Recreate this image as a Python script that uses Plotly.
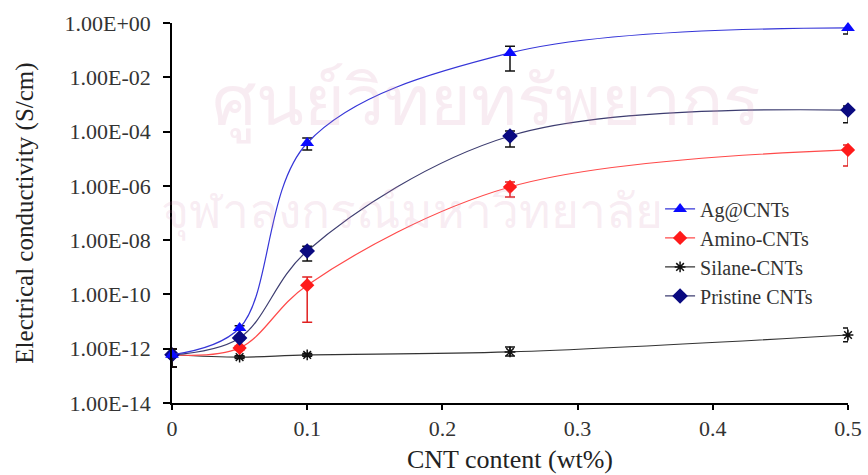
import plotly.graph_objects as go

# ---- data ----
cnt_content = [0, 0.05, 0.1, 0.25, 0.5]

ag_cnts = [6.0e-13, 5.8e-12, 3.8e-5, 7.9e-2, 0.66]
ag_hi = [9.8e-13, 7.0e-12, 5.8e-5, 0.14, 1.17]
ag_lo = [2.1e-13, 4.8e-12, 2.1e-5, 1.7e-2, 0.39]

amino_cnts = [6.0e-13, 1.07e-12, 2.2e-10, 9.1e-7, 2.1e-5]
amino_hi = [9.8e-13, 1.25e-12, 4.4e-10, 1.38e-6, 3.2e-5]
amino_lo = [2.1e-13, 0.9e-12, 9.5e-12, 3.9e-7, 5.4e-6]

silane_cnts = [6.0e-13, 4.9e-13, 5.9e-13, 7.6e-13, 3.2e-12]
silane_hi = [9.8e-13, 5.5e-13, 6.6e-13, 1.15e-12, 5.8e-12]
silane_lo = [2.1e-13, 4.4e-13, 5.3e-13, 5.4e-13, 1.8e-12]

pristine_cnts = [6.0e-13, 2.5e-12, 4.0e-9, 6.9e-5, 6.2e-4]
pristine_hi = [9.8e-13, 2.9e-12, 6.0e-9, 1.05e-4, 8.7e-4]
pristine_lo = [2.1e-13, 2.1e-12, 1.7e-9, 2.7e-5, 2.1e-4]

y_tick_vals = [1e-14, 1e-12, 1e-10, 1e-8, 1e-6, 1e-4, 1e-2, 1e0]
y_tick_text = ["1.00E-14", "1.00E-12", "1.00E-10", "1.00E-08",
               "1.00E-06", "1.00E-04", "1.00E-02", "1.00E+00"]
x_tick_vals = [0, 0.1, 0.2, 0.3, 0.4, 0.5]
x_tick_text = ["0", "0.1", "0.2", "0.3", "0.4", "0.5"]

watermark_lines = ["ศูนย์วิทยทรัพยากร", "จุฬาลงกรณ์มหาวิทยาลัย"]

SERIF = "Liberation Serif, Times New Roman, serif"


def err(y, hi, lo, color):
    return dict(type="data", symmetric=False,
                array=[h - v for h, v in zip(hi, y)],
                arrayminus=[v - l for v, l in zip(y, lo)],
                color=color, thickness=1.5, width=5)


series = [
    # name, y, hi, lo, line color, marker, marker color, size, err color, rank
    ("Silane-CNTs", silane_cnts, silane_hi, silane_lo, "#333333",
     "asterisk-open", "#111111", 9, "#111111", 3),
    ("Amino-CNTs", amino_cnts, amino_hi, amino_lo, "#ff4a4a",
     "diamond", "#ff1a1a", 11, "#e02020", 2),
    ("Pristine CNTs", pristine_cnts, pristine_hi, pristine_lo, "#3d3d70",
     "diamond", "#0a0a80", 12, "#111111", 4),
    ("Ag@CNTs", ag_cnts, ag_hi, ag_lo, "#3535d8",
     "triangle-up", "#0a0aff", 12, "#111111", 1),
]

fig = go.Figure()

for name, y, hi, lo, lc, sym, mc, ms, ec, rank in series:
    fig.add_trace(go.Scatter(
        x=cnt_content, y=y, name=name, mode="lines+markers",
        line=dict(color=lc, width=1.2, shape="spline", smoothing=1.0),
        marker=dict(symbol=sym, color=mc, size=ms,
                    line=dict(color=mc, width=1.5 if sym.startswith("asterisk") else 0)),
        error_y=err(y, hi, lo, ec),
        cliponaxis=False, legendrank=rank,
    ))

WM = "rgba(215,140,180,0.17)"
fig.update_layout(
    width=868, height=475,
    margin=dict(l=172, r=20, t=23, b=72, autoexpand=False),
    paper_bgcolor="white", plot_bgcolor="white",
    font=dict(family=SERIF, color="#222222"),
    showlegend=True,
    legend=dict(x=0.722, y=0.562, xanchor="left", yanchor="top",
                bgcolor="rgba(0,0,0,0)", font=dict(size=20, family=SERIF, color="#333333"),
                tracegroupgap=0),
    annotations=[
        dict(text=watermark_lines[0], xref="paper", yref="paper",
             x=0.465, y=0.90, showarrow=False,
             font=dict(size=70, color=WM)),
        dict(text=watermark_lines[1], xref="paper", yref="paper",
             x=0.355, y=0.50, showarrow=False,
             font=dict(size=48, color=WM)),
    ],
)

fig.update_xaxes(
    range=[0, 0.5], tickvals=x_tick_vals, ticktext=x_tick_text,
    showline=True, linecolor="black", linewidth=1.5, mirror=False,
    ticks="outside", ticklen=5, tickwidth=1.5, tickcolor="black",
    showgrid=False, zeroline=False, automargin=False,
    tickfont=dict(size=22, family=SERIF, color="#333333"),
    title=dict(text="CNT content (wt%)", font=dict(size=26, family=SERIF, color="#222222"),
               standoff=10),
)
fig.update_yaxes(
    type="log", range=[-14, 0], tickvals=y_tick_vals, ticktext=y_tick_text,
    showline=True, linecolor="black", linewidth=1.5, mirror=False,
    ticks="outside", ticklen=7, tickwidth=1.5, tickcolor="black",
    showgrid=False, zeroline=False, automargin=False, ticklabelstandoff=8,
    tickfont=dict(size=22, family=SERIF, color="#333333"),
    title=dict(text="Electrical conductivity (S/cm)",
               font=dict(size=25, family=SERIF, color="#222222"), standoff=24),
)

fig.write_html("out.html",
               config={"displayModeBar": False},
               post_script="document.body.style.margin='0';document.body.style.overflow='hidden';")
